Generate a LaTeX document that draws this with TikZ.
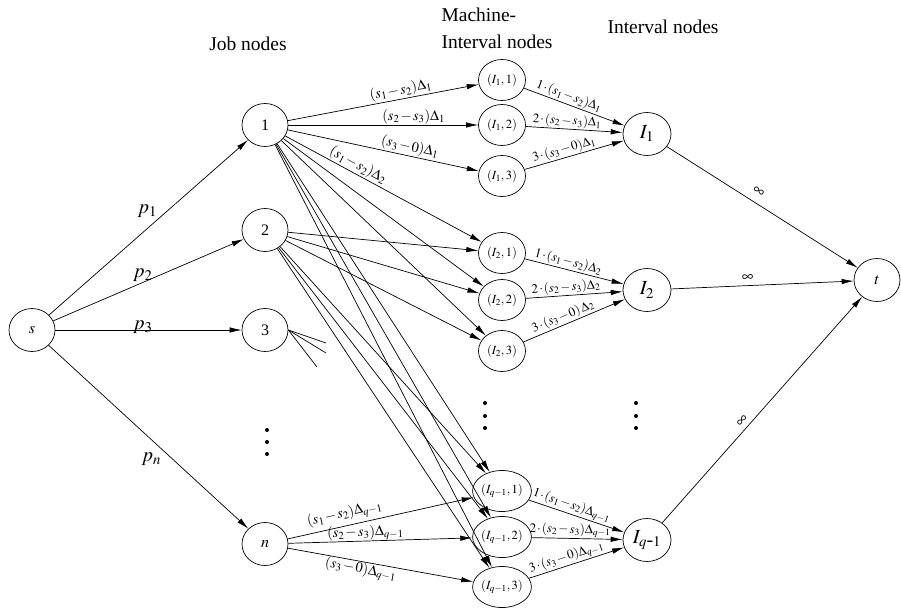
\documentclass[tikz,border=0pt]{standalone}
\usepackage{mathptmx}
\usepackage{fontspec}
\setmainfont{Liberation Serif}
\usetikzlibrary{arrows.meta}
\usetikzlibrary{shapes.geometric}
\tikzset{vtx/.style = {draw, ellipse, inner sep = 0, minimum width = 46, minimum height = 43,
                       font = \fontsize{16}{18}\selectfont}}
\tikzset{mvtx/.style = {vtx, minimum width = 47, minimum height = 41,
                        font = \fontsize{12.5}{14}\selectfont}}
\tikzset{ivtx/.style = {vtx, minimum width = 48, minimum height = 43,
                        font = \fontsize{20}{22}\selectfont}}
\tikzset{arr/.style = {-{Latex[length = 12pt, width = 5.5pt]}}}
\tikzset{wlab/.style = {font = \fontsize{14.5}{16}\selectfont, sloped, above, inner sep = 1pt}}
\tikzset{ilab/.style = {wlab, font = \fontsize{13}{15}\selectfont, pos = 0.42}}
\tikzset{plab/.style = {font = \fontsize{20}{22}\selectfont, inner sep = 1pt}}
\tikzset{inf/.style = {wlab, font = \fontsize{16}{18}\selectfont}}
\tikzset{hdr/.style = {font = \fontsize{19.5}{27}\selectfont}}

\begin{document}
\medmuskip=1.5mu\relax
\begin{tikzpicture}[x = 1pt, y = -1pt, line width = 0.7pt]
    \useasboundingbox (0, 0) rectangle (901, 612);

    \node [hdr] at (248, 44) {Job nodes};
    \node [hdr, align = left] at (497, 28) {Machine-\\Interval nodes};
    \node [hdr] at (663, 27) {Interval nodes};

    % source, jobs, sink
    \node [vtx] (s) at (32, 330) {$s$};
    \node [vtx] (j1) at (265, 125) {1};
    \node [vtx] (j2) at (265, 230) {2};
    \node [vtx] (j3) at (265, 330) {3};
    \node [vtx] (jn) at (265, 544) {$n$};
    \node [vtx] (t) at (877, 280) {$t$};

    % machine-interval nodes
    \foreach \k/\y in {1/80, 2/125, 3/176}
      \node [mvtx] (a\k) at (502, \y) {$(I_1,\k)$};
    \foreach \k/\y in {1/253, 2/300, 3/351}
      \node [mvtx] (b\k) at (502, \y) {$(I_2,\k)$};
    \foreach \k/\y in {1/491, 2/537, 3/587}
      \node [mvtx] (c\k) at (502, \y) {$(I_{q-1},\k)$};

    % interval nodes
    \node [ivtx] (i1) at (647, 134) {$I_1$};
    \node [ivtx] (i2) at (647, 290) {$I_2$};
    \node [ivtx] (iq) at (647, 540) {$I_{q\mbox{-}1}$};

    \foreach \y in {430, 442, 454} \fill (267, \y) circle [radius = 2pt];
    \foreach \y in {403, 416, 428} {
      \fill (485, \y) circle [radius = 2pt];
      \fill (636, \y) circle [radius = 2pt];
    }

    \draw [arr] (s) -- node [plab, pos = 0.55, above left] {$p_1$} (j1);
    \draw [arr] (s) -- node [plab, pos = 0.47, above] {$p_2$} (j2);
    \draw [arr] (s) -- node [plab, pos = 0.47, yshift = 3] {$p_3$} (j3);
    \draw [arr] (s) -- node [plab, pos = 0.62, left = 10pt] {$p_n$} (jn);

    \coordinate (e1) at (326, 343);
    \coordinate (e2) at (326, 353);
    \coordinate (e3) at (317, 367);
    \foreach \e in {e1, e2, e3} \draw (j3.east) -- (\e);

    \draw [arr] (j1) -- node [wlab, pos = 0.6] {$(s_1-s_2)\Delta_1$} (a1);
    \draw [arr] (j1) -- node [wlab, pos = 0.66] {$(s_2-s_3)\Delta_1$} (a2);
    \draw [arr] (j1) -- node [wlab, pos = 0.63] {$(s_3-0)\Delta_1$} (a3);
    \draw [arr] (j1) -- node [wlab, pos = 0.35] {$(s_1-s_2)\Delta_2$} (b1);
    \foreach \m in {b2, b3, c1, c2, c3} \draw [arr] (j1) -- (\m);
    \foreach \m in {b1, b2, b3, c1, c2, c3} \draw [arr] (j2) -- (\m);

    \draw [arr] (jn) -- node [wlab, pos = 0.32, above = 3pt] {$(s_1-s_2)\Delta_{q-1}$} (c1);
    \draw [arr] (jn) -- node [wlab, pos = 0.42, inner sep = 0] {$(s_2-s_3)\Delta_{q-1}$} (c2);
    \draw [arr] (jn) -- node [wlab, pos = 0.4, below, inner sep = 0] {$(s_3-0)\Delta_{q-1}$} (c3);

    \draw [arr] (a1) -- node [ilab] {$1\cdot(s_1-s_2)\Delta_1$} (i1);
    \draw [arr] (a2) -- node [ilab] {$2\cdot(s_2-s_3)\Delta_1$} (i1);
    \draw [arr] (a3) -- node [ilab] {$3\cdot(s_3-0)\Delta_1$} (i1);
    \draw [arr] (b1) -- node [ilab] {$1\cdot(s_1-s_2)\Delta_2$} (i2);
    \draw [arr] (b2) -- node [ilab] {$2\cdot(s_2-s_3)\Delta_2$} (i2);
    \draw [arr] (b3) -- node [ilab] {$3\cdot(s_3-0)\,\Delta_2$} (i2);
    \draw [arr] (c1) -- node [ilab] {$1\cdot(s_1-s_2)\Delta_{q-1}$} (iq);
    \draw [arr] (c2) -- node [ilab] {$2\cdot(s_2-s_3)\Delta_{q-1}$} (iq);
    \draw [arr] (c3) -- node [ilab] {$3\cdot(s_3-0)\Delta_{q-1}$} (iq);

    \draw [arr] (i1) -- node [inf, pos = 0.45, above = 6pt] {$\infty$} (t);
    \draw [arr] (i2) -- node [inf, pos = 0.42, above = 3pt] {$\infty$} (t);
    \draw [arr] (iq) -- node [inf, pos = 0.43, above = 3pt] {$\infty$} (t);
\end{tikzpicture}
\end{document}
